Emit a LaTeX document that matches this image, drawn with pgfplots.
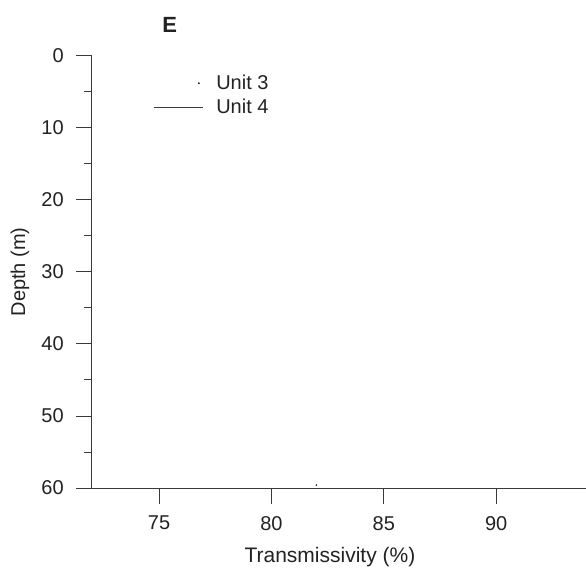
\documentclass[border=0pt]{standalone}
\usepackage{fontspec}
\setmainfont{Liberation Sans}
\usepackage{pgfplots}
\pgfplotsset{compat=1.18}
\definecolor{txt}{HTML}{222222}
\definecolor{axc}{HTML}{3A3A3A}

\begin{document}
\begin{tikzpicture}
\useasboundingbox (-91.7pt,-82pt) rectangle (494.3pt,488pt);
\begin{axis}[
  at={(0pt,0pt)}, anchor=south west,
  scale only axis,
  width=494.3pt, height=432.3pt,
  xmin=72, xmax=94,
  ymin=0, ymax=60,
  y dir=reverse,
  axis x line=bottom,
  axis y line=left,
  axis line style={-, axc, line width=0.9pt},
  xtick={75,80,85,90},
  ytick={0,10,...,60},
  minor ytick={5,15,...,55},
  tick align=outside,
  major tick length=15.5pt,
  minor tick length=8pt,
  tick style={axc, line width=0.9pt},
  /pgf/number format/assume math mode=true,
  every tick label/.append style={font=\fontsize{20}{24}\selectfont, text=txt},
  xticklabel style={yshift=-9pt},
  yticklabel style={xshift=-9pt},
  xlabel={Transmissivity (\%)},
  ylabel={Depth (m)},
  every axis x label/.style={at={(axis description cs:0.482,0)}, anchor=base, yshift=-74pt,
    font=\fontsize{21}{25}\selectfont, text=txt},
  every axis y label/.style={at={(axis description cs:-0.145,0.5)}, anchor=center, rotate=90,
    font=\fontsize{20}{24}\selectfont, text=txt},
  title={E},
  title style={at={(axis description cs:0.158,1)}, anchor=base, yshift=17pt,
    font=\bfseries\fontsize{22}{26}\selectfont, text=txt},
  legend style={at={(axis description cs:0.1246,0.96)}, anchor=north west,
    draw=none, fill=none, inner sep=0pt, row sep=4pt,
    font=\fontsize{20}{24}\selectfont, text=txt, cells={anchor=west},
    /tikz/every odd column/.append style={column sep=11pt}},
  clip=false,
]
\addplot[only marks, mark=*, mark size=0.6pt, txt,
  legend image code/.code={\fill[txt] (45pt,0pt) circle (0.7pt);}]
  coordinates {(82,59.6)};
\addlegendentry{Unit 3}
\addlegendimage{legend image code/.code={\draw[axc, line width=0.8pt] (0pt,0pt) -- (49pt,0pt);}}
\addlegendentry{Unit 4}
\end{axis}
\end{tikzpicture}
\end{document}
